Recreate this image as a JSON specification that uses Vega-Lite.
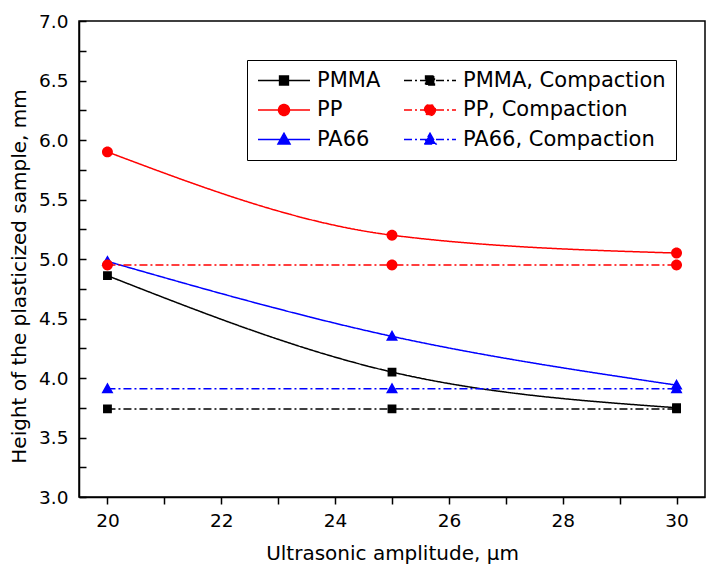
{
  "$schema": "https://vega.github.io/schema/vega-lite/v6.json",
  "width": 626,
  "height": 476,
  "autosize": {"type": "none"},
  "padding": {"left": 79, "top": 21, "right": 13, "bottom": 79},
  "background": "white",
  "config": {
    "view": {"stroke": "black", "strokeWidth": 1.5},
    "font": "DejaVu Sans",
    "axis": {"grid": false, "zindex": 1, "domainColor": "black", "domainWidth": 1.5, "tickColor": "black", "tickWidth": 1.5, "tickOpacity": 1, "labelColor": "black", "titleColor": "black", "labelFont": "DejaVu Sans", "titleFont": "DejaVu Sans", "labelFontSize": 18.5, "titleFontSize": 20, "titleFontWeight": "normal"},
    "legend": {"labelFont": "DejaVu Sans", "labelFontSize": 21, "labelColor": "black", "labelLimit": 400, "symbolSize": 2704, "symbolStrokeWidth": 1.5, "clipHeight": 21, "rowPadding": 7.5, "columnPadding": 22, "labelOffset": 6, "padding": 10, "strokeColor": "black", "columns": 2, "orient": "none", "legendX": 168, "legendY": 39}
  },
  "data": {"values": [
    {"x": 20, "y": 4.86, "series": "PMMA"},
    {"x": 25, "y": 4.05, "series": "PMMA"},
    {"x": 30, "y": 3.75, "series": "PMMA"},
    {"x": 20, "y": 5.9, "series": "PP"},
    {"x": 25, "y": 5.2, "series": "PP"},
    {"x": 30, "y": 5.05, "series": "PP"},
    {"x": 20, "y": 4.98, "series": "PA66"},
    {"x": 25, "y": 4.35, "series": "PA66"},
    {"x": 30, "y": 3.94, "series": "PA66"},
    {"x": 20, "y": 3.74, "series": "PMMA, Compaction"},
    {"x": 25, "y": 3.74, "series": "PMMA, Compaction"},
    {"x": 30, "y": 3.74, "series": "PMMA, Compaction"},
    {"x": 20, "y": 4.95, "series": "PP, Compaction"},
    {"x": 25, "y": 4.95, "series": "PP, Compaction"},
    {"x": 30, "y": 4.95, "series": "PP, Compaction"},
    {"x": 20, "y": 3.91, "series": "PA66, Compaction"},
    {"x": 25, "y": 3.91, "series": "PA66, Compaction"},
    {"x": 30, "y": 3.91, "series": "PA66, Compaction"}
  ]},
  "resolve": {"axis": {"y": "independent"}},
  "layer": [
    {
      "mark": {"type": "line", "interpolate": "monotone", "strokeWidth": 1.5},
      "encoding": {
        "x": {"field": "x", "type": "quantitative", "scale": {"domain": [19.5, 30.5], "nice": false, "zero": false},
          "axis": {"orient": "bottom", "values": [20, 21, 22, 23, 24, 25, 26, 27, 28, 29, 30], "tickSize": 7, "labelPadding": 7,
            "labelExpr": "datum.value % 2 == 0 ? format(datum.value, 'd') : ''",
            "encode": {"ticks": {"update": {"opacity": {"value": 1}, "y2": {"value": {"expr": "datum.value % 2 == 0 ? -7 : -4"}}}}},
            "title": "Ultrasonic amplitude, μm", "titleY": 46}},
        "y": {"field": "y", "type": "quantitative", "scale": {"domain": [3, 7], "nice": false, "zero": false},
          "axis": {"orient": "left", "values": [3, 3.5, 4, 4.5, 5, 5.5, 6, 6.5, 7], "ticks": false, "labelPadding": 11,
            "labelExpr": "format(datum.value, '.1f')",
            "title": "Height of the plasticized sample, mm", "titleX": -50, "titleY": 255}},
        "color": {"field": "series", "type": "nominal",
          "scale": {"domain": ["PMMA", "PP", "PA66", "PMMA, Compaction", "PP, Compaction", "PA66, Compaction"], "range": ["#000000", "#ff0000", "#0000ff", "#000000", "#ff0000", "#0000ff"]},
          "legend": {"title": null, "encode": {"symbols": {"update": {"stroke": {"value": {"expr": "scale('color', datum.value)"}}, "fill": {"value": {"expr": "scale('color', datum.value)"}}, "strokeWidth": {"value": 1.5}}}}}},
        "strokeDash": {"field": "series", "type": "nominal",
          "scale": {"domain": ["PMMA", "PP", "PA66", "PMMA, Compaction", "PP, Compaction", "PA66, Compaction"], "range": [[1, 0], [1, 0], [1, 0], [8, 3, 2, 3], [8, 3, 2, 3], [8, 3, 2, 3]]},
          "legend": {"title": null}}
      }
    },
    {
      "mark": {"type": "point", "filled": true, "size": 2704, "opacity": 1, "strokeWidth": 0},
      "encoding": {
        "x": {"field": "x", "type": "quantitative"},
        "y": {"field": "y", "type": "quantitative",
          "axis": {"orient": "right", "offset": -626, "values": [3, 3.25, 3.5, 3.75, 4, 4.25, 4.5, 4.75, 5, 5.25, 5.5, 5.75, 6, 6.25, 6.5, 6.75, 7], "tickSize": 7, "labels": false, "domain": false, "title": null,
            "encode": {"ticks": {"update": {"opacity": {"value": 1}, "x2": {"value": {"expr": "datum.value % 0.5 == 0 ? 7 : 4"}}}}}}},
        "color": {"field": "series", "type": "nominal",
          "scale": {"domain": ["PMMA", "PP", "PA66", "PMMA, Compaction", "PP, Compaction", "PA66, Compaction"], "range": ["#000000", "#ff0000", "#0000ff", "#000000", "#ff0000", "#0000ff"]},
          "legend": {"title": null, "encode": {"symbols": {"update": {"stroke": {"value": {"expr": "scale('color', datum.value)"}}, "fill": {"value": {"expr": "scale('color', datum.value)"}}, "strokeWidth": {"value": 1.5}}}}}},
        "shape": {"field": "series", "type": "nominal",
          "scale": {"domain": ["PMMA", "PP", "PA66", "PMMA, Compaction", "PP, Compaction", "PA66, Compaction"],
            "range": [
              "M-1,0H1M-0.17,-0.17H0.17V0.17H-0.17Z",
              "M-1,0H1M0.21,0A0.21,0.21,0,1,1,-0.21,0A0.21,0.21,0,1,1,0.21,0Z",
              "M-1,0H1M0,-0.24L0.23,0.17H-0.23Z",
              "M-1,0H1M-0.17,-0.17H0.17V0.17H-0.17Z",
              "M-1,0H1M0.21,0A0.21,0.21,0,1,1,-0.21,0A0.21,0.21,0,1,1,0.21,0Z",
              "M-1,0H1M0,-0.24L0.23,0.17H-0.23Z"
            ]},
          "legend": {"title": null}}
      }
    }
  ]
}
